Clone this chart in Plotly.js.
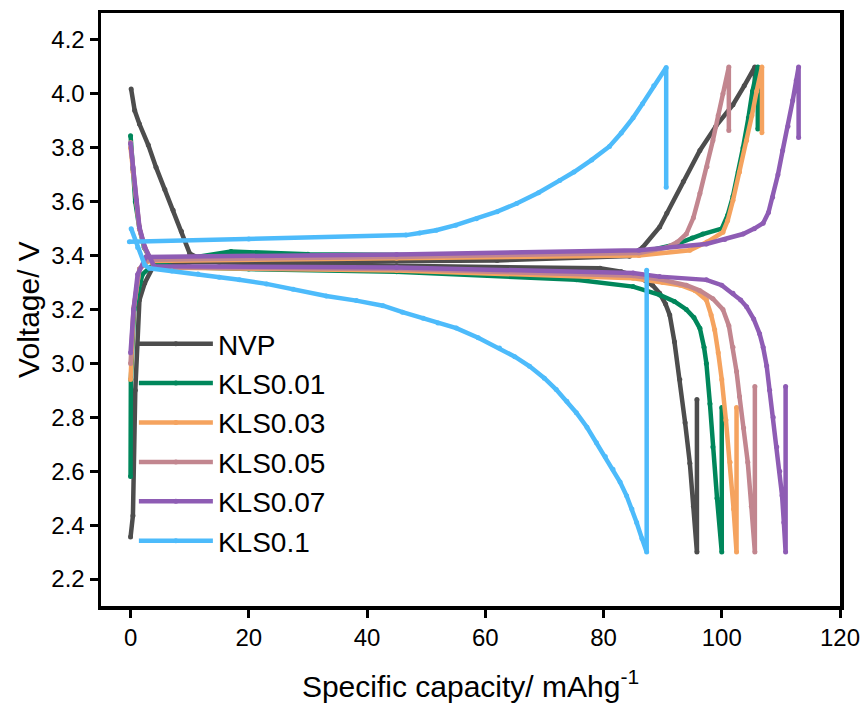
<!DOCTYPE html>
<html>
<head>
<meta charset="utf-8">
<script src="https://cdn.plot.ly/plotly-3.0.1.min.js"></script>
<style>
html,body{margin:0;padding:0;background:#fff;}
#chart{width:866px;height:709px;}
</style>
</head>
<body>
<div id="chart"></div>
<script>
// ---- Data ----
const seriesNames = ["NVP", "KLS0.01", "KLS0.03", "KLS0.05", "KLS0.07", "KLS0.1"];

// NVP
const nvpChargeCap = [0, 0.4, 0.8, 1.5, 2.4, 3.8, 10, 30, 62, 84.4, 86.6, 89.5, 90.7, 93.5, 96.3, 99, 101.9, 103.8, 105.6, 105.6];
const nvpChargeV   = [2.356, 2.435, 2.9, 3.235, 3.298, 3.358, 3.375, 3.378, 3.382, 3.398, 3.43, 3.506, 3.557, 3.675, 3.79, 3.88, 3.96, 4.03, 4.10, 4.03];
const nvpDisCap = [0.1, 0.7, 1.5, 3, 4.3, 5.8, 7.2, 8.6, 10, 12, 15, 45, 79.4, 83, 86, 88.3, 89.5, 90.5, 91.2, 92, 92.9, 93.8, 94.6, 95.2, 95.8, 95.8];
const nvpDisV   = [4.018, 3.938, 3.888, 3.81, 3.728, 3.645, 3.568, 3.49, 3.408, 3.385, 3.375, 3.362, 3.353, 3.34, 3.32, 3.29, 3.26, 3.22, 3.18, 3.08, 2.94, 2.78, 2.63, 2.47, 2.30, 2.866];

// KLS0.01
const k01ChargeCap = [0, 0.05, 0.6, 2, 4, 17, 30, 60, 86, 92, 95, 96.8, 100, 101, 101.9, 102.8, 103.6, 104.5, 105.2, 106.1, 106.1];
const k01ChargeV   = [2.58, 2.94, 3.2, 3.33, 3.37, 3.415, 3.405, 3.40, 3.41, 3.44, 3.465, 3.48, 3.50, 3.55, 3.62, 3.71, 3.80, 3.91, 4.01, 4.10, 3.87];
const k01DisCap = [0, 0.4, 0.8, 1.5, 2.3, 4, 20, 45, 75.4, 85, 89.5, 92, 94, 95.3, 96.3, 97, 97.4, 98, 98.5, 99.2, 100, 100];
const k01DisV   = [3.845, 3.72, 3.60, 3.50, 3.43, 3.36, 3.35, 3.34, 3.31, 3.285, 3.254, 3.23, 3.20, 3.17, 3.13, 3.06, 3.00, 2.85, 2.69, 2.50, 2.30, 2.836];

// KLS0.03
const k03ChargeCap = [0, 0.5, 1.5, 3, 45, 86, 94.6, 97.5, 100.2, 101, 101.9, 103, 104.2, 105.1, 105.9, 106.8, 106.8];
const k03ChargeV   = [2.94, 3.2, 3.35, 3.38, 3.39, 3.40, 3.42, 3.45, 3.487, 3.53, 3.605, 3.71, 3.827, 3.92, 4.01, 4.10, 3.856];
const k03DisCap = [0, 0.4, 1, 1.5, 2.4, 4, 45, 85, 90, 93, 95.5, 97.4, 98.2, 98.8, 99.4, 100, 100.7, 101.4, 102, 102.5, 102.5];
const k03DisV   = [3.80, 3.71, 3.60, 3.50, 3.43, 3.356, 3.345, 3.316, 3.30, 3.29, 3.27, 3.235, 3.18, 3.125, 3.04, 2.94, 2.79, 2.633, 2.46, 2.30, 2.836];

// KLS0.05
const k05ChargeCap = [0, 0.5, 1.5, 3, 45, 86, 90.7, 92.5, 94, 95.2, 96.3, 97.5, 98.5, 99.4, 100.2, 101.2, 101.2];
const k05ChargeV   = [3.0, 3.2, 3.35, 3.385, 3.395, 3.41, 3.43, 3.45, 3.48, 3.54, 3.63, 3.73, 3.827, 3.92, 4.0, 4.10, 3.864];
const k05DisCap = [0, 0.4, 1, 1.5, 2.4, 4, 45, 85, 90, 94, 96.3, 98.5, 100.2, 101.2, 101.9, 102.5, 103, 103.7, 104.4, 105, 105.6, 105.6];
const k05DisV   = [3.82, 3.72, 3.60, 3.50, 3.43, 3.357, 3.35, 3.325, 3.31, 3.29, 3.27, 3.24, 3.20, 3.14, 3.06, 2.97, 2.877, 2.76, 2.633, 2.47, 2.30, 2.914];

// KLS0.07
const k07ChargeCap = [0, 0.5, 1.2, 2.6, 45, 86, 97.4, 100.5, 103.6, 105.5, 107, 107.9, 108.6, 109.5, 110.3, 111.2, 112, 112.6, 113, 113];
const k07ChargeV   = [3.04, 3.2, 3.33, 3.395, 3.404, 3.42, 3.443, 3.46, 3.48, 3.50, 3.52, 3.56, 3.616, 3.70, 3.79, 3.88, 3.975, 4.05, 4.10, 3.838];
const k07DisCap = [0, 0.4, 1, 1.5, 2.4, 3.2, 4, 45, 85, 89.5, 97.4, 100, 101.9, 103.2, 104.2, 105.4, 106.4, 107, 107.6, 108.1, 108.7, 109.3, 109.8, 110.2, 110.5, 110.8, 110.8];
const k07DisV   = [3.816, 3.728, 3.605, 3.506, 3.432, 3.395, 3.36, 3.356, 3.335, 3.322, 3.31, 3.29, 3.26, 3.235, 3.21, 3.165, 3.11, 3.06, 2.99, 2.90, 2.80, 2.69, 2.60, 2.51, 2.41, 2.30, 2.914];

// KLS0.1
const k10ChargeCap = [-0.2, 20, 46.6, 48.9, 51.7, 55, 58.5, 62, 65.3, 69, 72.6, 75, 78, 81, 83, 85, 86.6, 88.5, 90.6, 90.6];
const k10ChargeV   = [3.451, 3.462, 3.476, 3.484, 3.494, 3.513, 3.537, 3.563, 3.593, 3.633, 3.679, 3.71, 3.755, 3.805, 3.855, 3.911, 3.963, 4.03, 4.098, 3.654];
const k10DisCap = [0.1, 1.2, 2.4, 3.2, 7, 11.4, 15, 18.4, 23, 27.5, 33.1, 38.2, 42.7, 46, 49.5, 52, 55.1, 58.8, 62.4, 65, 67.5, 70, 72, 73.8, 75.4, 77.2, 78.8, 80.3, 81.6, 82.8, 83.9, 84.8, 85.6, 86.5, 87.3, 87.3];
const k10DisV   = [3.50, 3.43, 3.365, 3.353, 3.343, 3.332, 3.32, 3.31, 3.295, 3.275, 3.25, 3.233, 3.214, 3.19, 3.168, 3.15, 3.131, 3.095, 3.057, 3.025, 2.989, 2.945, 2.903, 2.86, 2.817, 2.763, 2.706, 2.655, 2.607, 2.56, 2.509, 2.46, 2.41, 2.35, 2.30, 3.346];

const xTickVals = [0, 20, 40, 60, 80, 100, 120];
const yTickVals = [2.2, 2.4, 2.6, 2.8, 3.0, 3.2, 3.4, 3.6, 3.8, 4.0, 4.2];

// ---- Styling ----
const colors = ["#4d4d4d", "#00875b", "#f5a35f", "#c2868f", "#8e5cb4", "#4dbbfb"];
const curves = [
  [nvpChargeCap, nvpChargeV, nvpDisCap, nvpDisV],
  [k01ChargeCap, k01ChargeV, k01DisCap, k01DisV],
  [k03ChargeCap, k03ChargeV, k03DisCap, k03DisV],
  [k05ChargeCap, k05ChargeV, k05DisCap, k05DisV],
  [k07ChargeCap, k07ChargeV, k07DisCap, k07DisV],
  [k10ChargeCap, k10ChargeV, k10DisCap, k10DisV]
];

const traces = curves.map((c, i) => ({
  type: "scatter",
  mode: "lines+markers",
  name: seriesNames[i],
  x: c[0].concat([null], c[2]),
  y: c[1].concat([null], c[3]),
  connectgaps: false,
  line: {color: colors[i], width: 4.5},
  marker: {color: colors[i], size: 5, symbol: "circle"}
}));

const fontFam = "Arial, 'Liberation Sans', sans-serif";

const layout = {
  width: 866, height: 709,
  margin: {l: 101, r: 26, t: 13, b: 103},
  paper_bgcolor: "#fff", plot_bgcolor: "#fff",
  font: {family: fontFam, color: "#000"},
  showlegend: true,
  legend: {
    x: 0.0445, y: 0.484, xanchor: "left", yanchor: "top",
    bgcolor: "rgba(0,0,0,0)",
    font: {family: fontFam, size: 28, color: "#000"},
    itemwidth: 74,
    tracegroupgap: 0
  },
  xaxis: {
    range: [-5, 120],
    tickvals: xTickVals,
    ticks: "outside", ticklen: 8, tickwidth: 3, tickcolor: "#000",
    showline: true, linewidth: 3.5, linecolor: "#000", mirror: true,
    showgrid: false, zeroline: false,
    tickfont: {family: fontFam, size: 24, color: "#000"},
    title: {text: "Specific capacity/ mAhg<sup>-1</sup>", font: {family: fontFam, size: 30, color: "#000"}, standoff: 26}
  },
  yaxis: {
    range: [2.1, 4.3],
    tickvals: yTickVals,
    tickformat: ".1f",
    ticks: "outside", ticklen: 8, tickwidth: 3, tickcolor: "#000",
    showline: true, linewidth: 3.5, linecolor: "#000", mirror: true,
    showgrid: false, zeroline: false,
    tickfont: {family: fontFam, size: 24, color: "#000"},
    title: {text: "Voltage/ V", font: {family: fontFam, size: 30, color: "#000"}, standoff: 4}
  }
};

Plotly.newPlot("chart", traces, layout, {displayModeBar: false, staticPlot: true});
</script>
</body>
</html>
